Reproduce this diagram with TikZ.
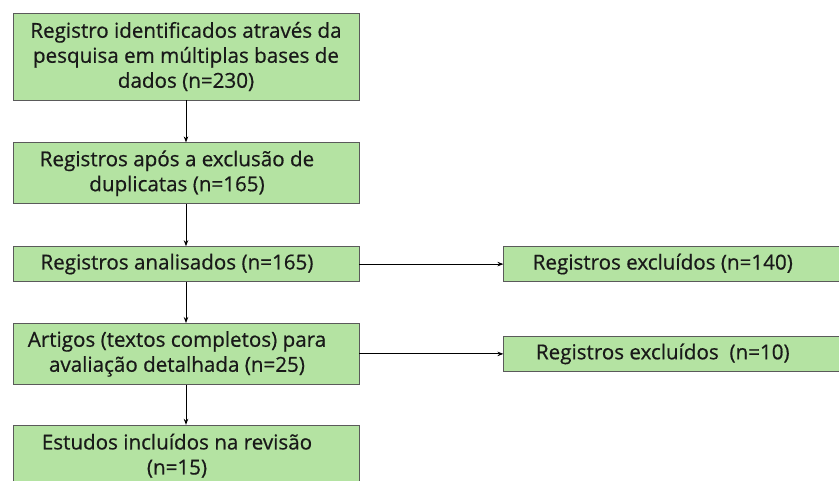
\documentclass[tikz,border=0pt]{standalone}
\usepackage{fontspec}
\setmainfont{Open Sans}[FakeBold=0.6]
\usepackage{tikz}
\usetikzlibrary{positioning,arrows.meta}
\definecolor{boxgreen}{HTML}{B4E3A2}
\definecolor{boxline}{HTML}{5A5A5A}
\newcommand{\pad}{\kern18pt}
\tikzset{
    basic/.style={
        draw=boxline,
        line width=0.8pt,
        rectangle,
        fill=boxgreen,
        minimum width=346pt,
        align=center,
        inner sep=2pt,
        text=black!90,
        font=\fontsize{20.6}{25}\selectfont
    },
    side/.style={
        basic,
        minimum width=336pt,
        minimum height=35pt
    },
    flow/.style={
        -{Stealth[length=6pt,width=4.5pt]},
        line width=0.8pt
    }
}
\begin{document}
\begin{tikzpicture}[x=1pt,y=1pt]
        \useasboundingbox (0,0) rectangle (839,480);
        \node[basic,minimum height=87pt] (Identified) at (186,423.5) {
                Registro identificados através da\\
                pesquisa em múltiplas bases de\\
                dados (n=230)
            };

            \node[basic,minimum height=61pt,below=42pt of Identified] (Unique) {
                    Registros após a exclusão de\pad\\
                    duplicatas (n=165)\pad
                };

            \node[basic,minimum height=35pt,below=42pt of Unique] (Screened) {
                    Registros analisados (n=165)\pad
                };

            \node[basic,minimum height=61pt,below=41pt of Screened] (Fulltext) {
                    Artigos (textos completos) para\pad\\
                    avaliação detalhada (n=25)\pad
                };

            \node[basic,minimum height=61pt,below=40pt of Fulltext] (Included) {
                    Estudos incluídos na revisão\pad\\
                    (n=15)\pad
                };

            \node[side,right=144pt of Screened] (ExclScreen) {
                    Registros excluídos (n=140)\pad
                };

            \node[side,right=144pt of Fulltext] (ExclFull) {
                    Registros excluídos~ (n=10)\pad
                };

                \draw[flow] (Identified) -- (Unique);
                \draw[flow] (Unique) -- (Screened);
                \draw[flow] (Screened) -- (Fulltext);
                \draw[flow] (Fulltext) -- (Included);
                \draw[flow] (Screened) -- (ExclScreen);
                \draw[flow] (Fulltext) -- (ExclFull);
    \end{tikzpicture}
\end{document}
